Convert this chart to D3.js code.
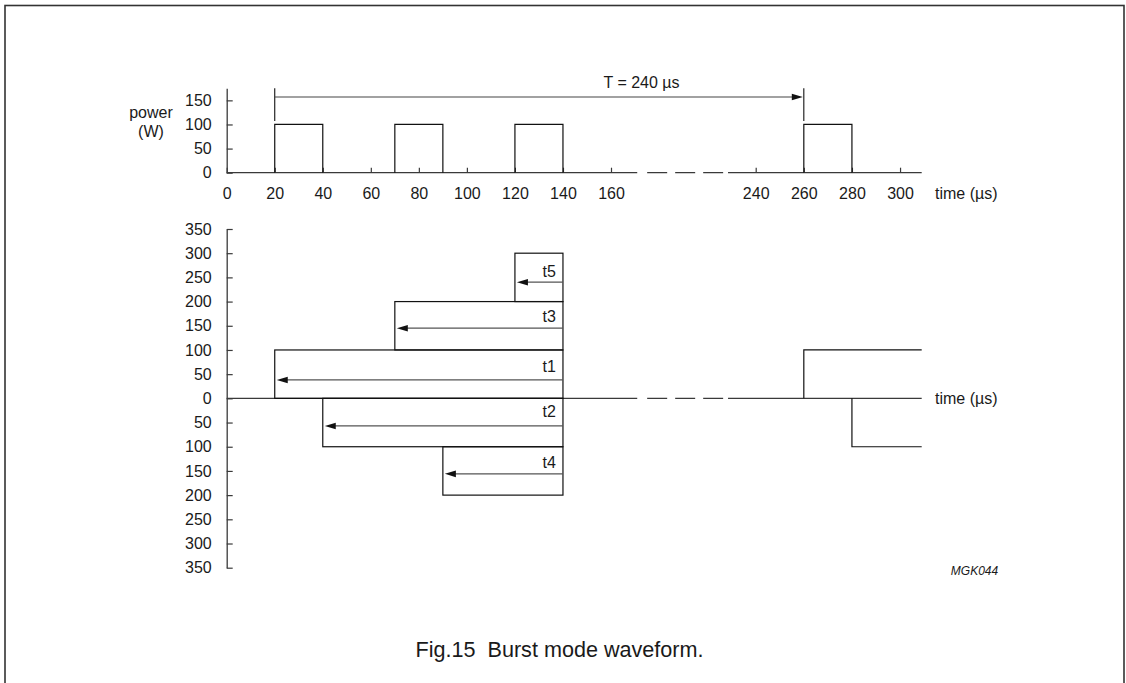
<!DOCTYPE html>
<html><head><meta charset="utf-8">
<script src="https://cdn.jsdelivr.net/npm/d3@7/dist/d3.min.js"></script>
<style>
html,body{margin:0;padding:0;background:#fff;}
svg text{font-family:"Liberation Sans",Arial,Helvetica,sans-serif;fill:#1a1a1a;white-space:pre;}
</style></head>
<body>
<svg id="c" width="1126" height="683"></svg>
<script>
// ---- data ----
const timeTicks = [0,20,40,60,80,100,120,140,160,240,260,280,300];
const powerTicks = [0,50,100,150];
const bottomTicks = [-350,-300,-250,-200,-150,-100,-50,0,50,100,150,200,250,300,350];
// burst pulses (µs start, µs end, watts)
const pulseStart = [20,70,120,260];
const pulseEnd   = [40,90,140,280];
const pulsePower = [100,100,100,100];
// accumulated steps: [start, end, low, high]
const stepNames = ["t1","t3","t5","t2","t4"];
const stepStart = [20,70,120,40,90];
const stepEnd   = [140,140,140,140,140];
const stepLow   = [0,100,200,0,-100];
const stepHigh  = [100,200,300,-100,-200];
const arrowLevel = [38,145,240,-57,-156];
const labelLevel = [65,170,263,-28,-132];
// repeating steps after the break
const repStart = [260,280];
const repLevel = [100,-100];
const timeEnd = 309;
// axis break: solid to a, dashed b..c, solid from d
const breakSolidEnd = 174.5, breakDashStart = 180, breakDashEnd = 222, breakSolidStart = 224.7;
const period = 240;

// ---- scales ----
const svg = d3.select("#c");
const x = d3.scaleLinear().domain([0,160,240,timeEnd]).range([226.7,611,755.7,921.7]);
const yTop = d3.scaleLinear().domain([0,175]).range([172.7,88.3]);
const yBot = d3.scaleLinear().domain([-350,350]).range([567.7,229]);

const FS = 16;
const axisCol = "#3a3a3a";

// border
svg.append("rect").attr("x",5).attr("y",5.5).attr("width",1119).attr("height",720)
  .attr("fill","none").attr("stroke","#333").attr("stroke-width",1.6);

function arrowHead(g, tipX, tipY, dir){ // dir -1 left, +1 right
  const L=11, W=3.3;
  g.append("path").attr("d",`M${tipX},${tipY}L${tipX-dir*L},${tipY-W}L${tipX-dir*L},${tipY+W}Z`)
    .attr("fill","#111");
}

function timeLine(g, yPix){
  const seg = (a,b,dash)=>{
    const p = g.append("line").attr("x1",x(a)).attr("x2",x(b)).attr("y1",yPix).attr("y2",yPix)
      .attr("stroke",axisCol).attr("stroke-width",1.3);
    if(dash) p.attr("stroke-dasharray","20,8");
  };
  seg(0,breakSolidEnd,false);
  seg(breakDashStart,breakDashEnd,true);
  seg(breakSolidStart,timeEnd,false);
}

// ---- top chart ----
const gTop = svg.append("g");
const yAxTop = d3.axisLeft(yTop).tickValues(powerTicks).tickSize(-6).tickSizeOuter(0).tickPadding(15);
gTop.append("g").attr("transform",`translate(${x(0)},0)`).call(yAxTop)
  .call(g=>{g.select(".domain").attr("stroke",axisCol).attr("stroke-width",1.3);
            g.selectAll(".tick line").attr("stroke",axisCol).attr("stroke-width",1.2);
            g.selectAll("text").attr("font-size",FS).attr("font-family",null).attr("fill","#1a1a1a");});
const xAxTop = d3.axisBottom(x).tickValues(timeTicks).tickSize(-5).tickSizeOuter(0).tickPadding(14.5).tickFormat(d3.format("d"));
gTop.append("g").attr("transform",`translate(0,${yTop(0)})`).call(xAxTop)
  .call(g=>{g.select(".domain").remove();
            g.selectAll(".tick line").attr("stroke",axisCol).attr("stroke-width",1.2);
            g.selectAll("text").attr("font-size",FS).attr("font-family",null).attr("fill","#1a1a1a");});
timeLine(gTop, yTop(0));
gTop.append("text").attr("x",935).attr("y",193).attr("dy","0.35em").attr("font-size",FS).text("time (µs)");
gTop.append("text").attr("x",151).attr("y",112.7).attr("dy","0.35em").attr("text-anchor","middle").attr("font-size",FS).text("power");
gTop.append("text").attr("x",151).attr("y",131.7).attr("dy","0.35em").attr("text-anchor","middle").attr("font-size",FS).text("(W)");

pulseStart.forEach((s,i)=>{
  const e = pulseEnd[i], p = pulsePower[i];
  gTop.append("path").attr("d",`M${x(s)},${yTop(0)}V${yTop(p)}H${x(e)}V${yTop(0)}`)
    .attr("fill","none").attr("stroke","#111").attr("stroke-width",1.2);
});
// period marker
const pA = pulseStart[0], pB = pulseStart[0]+period;
[pA,pB].forEach(t=>{
  gTop.append("line").attr("x1",x(t)).attr("x2",x(t)).attr("y1",yTop(107)).attr("y2",yTop(175))
    .attr("stroke","#111").attr("stroke-width",1.1);
});
gTop.append("line").attr("x1",x(pA)).attr("x2",x(pB)-8).attr("y1",yTop(157)).attr("y2",yTop(157))
  .attr("stroke","#444").attr("stroke-width",1.2);
arrowHead(gTop, x(pB)-1, yTop(157), 1);
gTop.append("text").attr("x",641.5).attr("y",82).attr("dy","0.35em").attr("text-anchor","middle").attr("font-size",FS).text("T = 240 µs");

// ---- bottom chart ----
const gBot = svg.append("g");
const yAxBot = d3.axisLeft(yBot).tickValues(bottomTicks).tickSize(-6).tickSizeOuter(0).tickPadding(15)
  .tickFormat(d=>Math.abs(d));
gBot.append("g").attr("transform",`translate(${x(0)},0)`).call(yAxBot)
  .call(g=>{g.select(".domain").attr("stroke",axisCol).attr("stroke-width",1.3);
            g.selectAll(".tick line").attr("stroke",axisCol).attr("stroke-width",1.2);
            g.selectAll("text").attr("font-size",FS).attr("font-family",null).attr("fill","#1a1a1a");});
timeLine(gBot, yBot(0));
gBot.append("text").attr("x",935).attr("y",yBot(0)).attr("dy","0.35em").attr("font-size",FS).text("time (µs)");

stepNames.forEach((n,i)=>{
  const x0 = x(stepStart[i]), x1 = x(stepEnd[i]);
  const ya = yBot(Math.max(stepLow[i],stepHigh[i])), yb = yBot(Math.min(stepLow[i],stepHigh[i]));
  gBot.append("rect").attr("x",x0).attr("y",ya).attr("width",x1-x0).attr("height",yb-ya)
    .attr("fill","none").attr("stroke","#111").attr("stroke-width",1.2);
  const ay = yBot(arrowLevel[i]);
  gBot.append("line").attr("x1",x1).attr("x2",x0+9).attr("y1",ay).attr("y2",ay)
    .attr("stroke","#555").attr("stroke-width",1.2);
  arrowHead(gBot, x0+2, ay, -1);
  gBot.append("text").attr("x",x1-7).attr("y",yBot(labelLevel[i])).attr("dy","0.35em")
    .attr("text-anchor","end").attr("font-size",FS).text(n);
});
repStart.forEach((s,i)=>{
  gBot.append("path").attr("d",`M${x(s)},${yBot(0)}V${yBot(repLevel[i])}H${x(timeEnd)}`)
    .attr("fill","none").attr("stroke","#111").attr("stroke-width",1.2);
});

svg.append("text").attr("x",974.5).attr("y",571).attr("dy","0.35em").attr("text-anchor","middle")
  .attr("font-size",12).attr("font-style","italic").text("MGK044");
svg.append("text").attr("x",559.5).attr("y",649).attr("dy","0.35em").attr("text-anchor","middle")
  .attr("font-size",21.6).text("Fig.15  Burst mode waveform.");
</script>
</body></html>
